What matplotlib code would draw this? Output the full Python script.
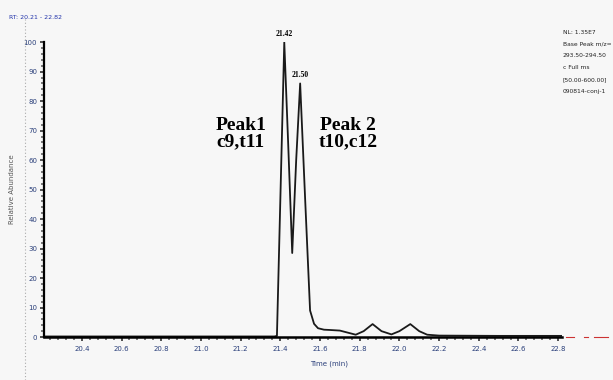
import matplotlib.pyplot as plt
from matplotlib.ticker import MultipleLocator

# chromatogram (time in min, relative abundance in %)
time = [20.21, 21.370, 21.383, 21.420, 21.440, 21.460, 21.480, 21.500, 21.525,
        21.550, 21.570, 21.590, 21.620, 21.650, 21.700, 21.740, 21.780, 21.820,
        21.865, 21.910, 21.960, 22.000, 22.055, 22.100, 22.140, 22.200, 22.500,
        22.820]
abundance = [0.2, 0.2, 0.4, 100.0, 65.0, 28.5, 60.0, 86.0, 47.0,
             9.0, 4.5, 3.0, 2.5, 2.4, 2.2, 1.5, 0.8, 2.0,
             4.4, 2.0, 0.9, 2.0, 4.4, 2.0, 0.8, 0.5, 0.4,
             0.4]

peak_times = [21.42, 21.50]
peak_heights = [100.0, 86.0]
peak_names = ["Peak1\nc9,t11", "Peak 2\nt10,c12"]

info_lines = ["NL: 1.35E7", "Base Peak m/z=", "293.50-294.50", "c Full ms",
              "[50.00-600.00]", "090814-conj-1"]

bg = "#f7f7f7"
fig = plt.figure(figsize=(6.13, 3.80), dpi=100, facecolor=bg)
ax = fig.add_axes([0.072, 0.113, 0.845, 0.776], facecolor=bg)

ax.plot(time, abundance, color="#1a1a1a", lw=1.3)

ax.set_xlim(20.21, 22.82)
ax.set_ylim(0, 100)
for s in ["top", "right"]:
    ax.spines[s].set_visible(False)
ax.spines["left"].set_linewidth(1.6)
ax.spines["bottom"].set_linewidth(1.8)

ax.xaxis.set_major_locator(MultipleLocator(0.2))
ax.xaxis.set_minor_locator(MultipleLocator(0.04))
ax.yaxis.set_major_locator(MultipleLocator(10))
ax.yaxis.set_minor_locator(MultipleLocator(2))
ax.tick_params(axis="both", which="major", labelsize=5, colors="#333333",
               length=3, width=1.2)
ax.tick_params(axis="both", which="minor", length=2, width=1.2,
               colors="#666666")
ax.tick_params(axis="x", labelcolor="#2a3f7a")
ax.tick_params(axis="y", labelcolor="#2a3f7a", pad=2)

ax.set_xlabel("Time (min)", fontsize=5, color="#2a3f7a", labelpad=6,
              x=0.55)
ax.set_ylabel("Relative Abundance", fontsize=5, color="#555555", labelpad=6)

# retention time labels on the peaks
for t, h in zip(peak_times, peak_heights):
    ax.text(t, h + 1.5, "%.2f" % t, fontsize=5.5, fontweight="bold",
            family="Liberation Serif", ha="center", va="bottom",
            clip_on=False)

ax.text(21.20, 69, peak_names[0], fontsize=14, fontweight="bold",
        family="Liberation Serif", ha="center", va="center",
        linespacing=1.0)
ax.text(21.74, 69, peak_names[1], fontsize=14, fontweight="bold",
        family="Liberation Serif", ha="center", va="center",
        linespacing=1.0)

# header and side info
fig.text(0.015, 0.95, "RT: 20.21 - 22.82", fontsize=4.5, color="#2233aa")
for i, line in enumerate(info_lines):
    fig.text(0.918, 0.915 - i * 0.031, line, fontsize=4.3, color="#222222",
             va="center")

# red dashes past the axis end and the dotted guide on the left
ax.plot([22.84, 22.88], [0, 0], color="#cc3333", lw=0.8, clip_on=False)
ax.plot([22.93, 22.95], [0, 0], color="#cc3333", lw=0.8, clip_on=False)
ax.plot([22.98, 23.05], [0, 0], color="#cc3333", lw=0.8, clip_on=False)
fig.add_artist(plt.Line2D([0.04, 0.04], [0.0, 0.95], color="#aaaaaa",
                          lw=0.8, ls=(0, (1, 2))))

fig.savefig("out.png", dpi=100, facecolor=bg)
